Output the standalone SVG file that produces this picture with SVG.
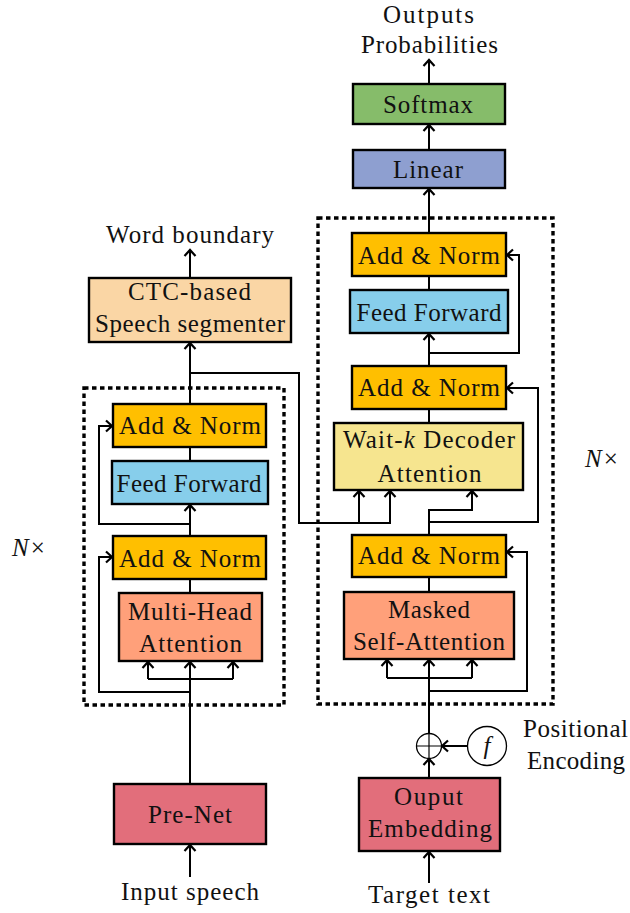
<svg xmlns="http://www.w3.org/2000/svg" width="630" height="913" viewBox="0 0 630 913">
<defs>
<style>
.box{stroke:#000;stroke-width:2.4}
.t{font-family:'Liberation Serif','Times New Roman',Times,'DejaVu Serif',serif;font-size:25px;fill:#111;text-anchor:middle}
.n{font-family:'Liberation Serif','Times New Roman',Times,'DejaVu Serif',serif;font-size:25px;fill:#111}
.c{fill:none;stroke:#000;stroke-width:2}
.ca{fill:none;stroke:#000;stroke-width:2;marker-end:url(#ah)}
.dash{fill:none;stroke:#000;stroke-width:3.4;stroke-dasharray:4.5 3.5}
.an{fill:#FFBF00}
.ff{fill:#87CEEB}
.at{fill:#FFA07A}
.emb{fill:#E26E7B}
</style>
<marker id="ah" markerUnits="userSpaceOnUse" viewBox="-9 -8 11 16" markerWidth="11" markerHeight="16" refX="0" refY="0" orient="auto">
<path d="M-6,-5.5 L0,0 L-6,5.5" fill="none" stroke="#000" stroke-width="2.2" stroke-linejoin="miter"/>
</marker>
</defs>
<rect width="630" height="913" fill="#fff"/>

<g id="encoder-block">
<rect class="dash" x="84" y="388" width="200" height="317"/>
<text class="n" x="12" y="556"><tspan font-style="italic">N</tspan><tspan dx="2">×</tspan></text>
</g>
<g id="decoder-block">
<rect class="dash" x="318" y="218" width="235" height="486"/>
<text class="n" x="585" y="467"><tspan font-style="italic">N</tspan><tspan dx="2">×</tspan></text>
</g>

<g id="connectors">
<path class="ca" d="M190,877 V845"/>
<path class="ca" d="M190,784 V662"/>
<path class="c" d="M148,679 H233"/>
<path class="ca" d="M148,679 V662"/>
<path class="ca" d="M233,679 V662"/>
<path class="ca" d="M190,692 H99 V557 H112"/>
<path class="c" d="M190,593 V579"/>
<path class="ca" d="M190,536 V505"/>
<path class="ca" d="M190,524 H99 V426 H112"/>
<path class="c" d="M190,461 V447"/>
<path class="ca" d="M190,404 V343"/>
<path class="ca" d="M190,373 H299 V523 H390 V491"/>
<path class="ca" d="M359,523 V491"/>
<path class="ca" d="M190,278 V250"/>

<path class="ca" d="M429,883 V852"/>
<path class="ca" d="M429,778 V759"/>
<path class="ca" d="M467,746 H442"/>
<path class="ca" d="M429,733 V660"/>
<path class="c" d="M387,678 H472"/>
<path class="ca" d="M387,678 V660"/>
<path class="ca" d="M472,678 V660"/>
<path class="ca" d="M429,691 H527 V552 H507"/>
<path class="c" d="M429,592 V577"/>
<path class="ca" d="M429,535 V510 H472 V491"/>
<path class="ca" d="M429,522 H538 V388 H507"/>
<path class="c" d="M429,423 V409"/>
<path class="ca" d="M429,366 V334"/>
<path class="ca" d="M429,353 H519 V255 H507"/>
<path class="c" d="M429,290 V276"/>
<path class="ca" d="M429,233 V189"/>
<path class="ca" d="M429,150 V125"/>
<path class="ca" d="M429,84 V60"/>
</g>

<g id="word-boundary"><text class="t" x="190" y="243" textLength="168">Word boundary</text></g>
<g id="ctc">
<rect class="box" x="89" y="278" width="202" height="64" fill="#FAD6A5"/>
<text class="t" x="189.5" y="300" textLength="123">CTC-based</text>
<text class="t" x="190" y="332" textLength="190">Speech segmenter</text>
</g>
<g id="enc-addnorm2">
<rect class="box an" x="113" y="404" width="153" height="43"/>
<text class="t" x="190" y="434" textLength="142">Add &amp; Norm</text>
</g>
<g id="enc-ff">
<rect class="box ff" x="112" y="461" width="156" height="43"/>
<text class="t" x="189" y="492" textLength="145">Feed Forward</text>
</g>
<g id="enc-addnorm1">
<rect class="box an" x="113" y="536" width="153" height="43"/>
<text class="t" x="190" y="567" textLength="142">Add &amp; Norm</text>
</g>
<g id="enc-mha">
<rect class="box at" x="119" y="593" width="143" height="68"/>
<text class="t" x="190" y="620" textLength="124">Multi-Head</text>
<text class="t" x="190.5" y="652" textLength="103">Attention</text>
</g>
<g id="prenet">
<rect class="box emb" x="114" y="784" width="152" height="60"/>
<text class="t" x="190" y="823" textLength="84">Pre-Net</text>
</g>
<g id="input-speech"><text class="t" x="190" y="900" textLength="138">Input speech</text></g>

<g id="outputs">
<text class="t" x="428.5" y="23" textLength="91">Outputs</text>
<text class="t" x="429.5" y="53" textLength="137">Probabilities</text>
</g>
<g id="softmax">
<rect class="box" x="353" y="84" width="152" height="40" fill="#86BC6A"/>
<text class="t" x="428" y="113" textLength="90">Softmax</text>
</g>
<g id="linear">
<rect class="box" x="353" y="150" width="152" height="38" fill="#8E9FD0"/>
<text class="t" x="428" y="178" textLength="70">Linear</text>
</g>
<g id="dec-addnorm3">
<rect class="box an" x="352" y="233" width="154" height="43"/>
<text class="t" x="429" y="264" textLength="142">Add &amp; Norm</text>
</g>
<g id="dec-ff">
<rect class="box ff" x="350" y="290" width="158" height="43"/>
<text class="t" x="429" y="321" textLength="145">Feed Forward</text>
</g>
<g id="dec-addnorm2">
<rect class="box an" x="352" y="366" width="154" height="43"/>
<text class="t" x="429" y="396" textLength="142">Add &amp; Norm</text>
</g>
<g id="waitk">
<rect class="box" x="334" y="423" width="189" height="67" fill="#F6E58F"/>
<text class="t" x="429" y="448" textLength="172">Wait-<tspan font-style="italic">k</tspan> Decoder</text>
<text class="t" x="429.5" y="482" textLength="104">Attention</text>
</g>
<g id="dec-addnorm1">
<rect class="box an" x="352" y="535" width="154" height="42"/>
<text class="t" x="429" y="564" textLength="142">Add &amp; Norm</text>
</g>
<g id="masked">
<rect class="box at" x="344" y="592" width="170" height="67"/>
<text class="t" x="429" y="618" textLength="82">Masked</text>
<text class="t" x="429" y="650" textLength="152">Self-Attention</text>
</g>
<g id="plus">
<circle cx="429" cy="746" r="12.5" fill="#fff" stroke="#000" stroke-width="1.3"/>
<path d="M417,746 H441 M429,734 V758" stroke="#000" stroke-width="1.2" fill="none"/>
</g>
<g id="posenc">
<circle cx="487" cy="746" r="19.5" fill="#fff" stroke="#000" stroke-width="1.3"/>
<text class="t" x="487" y="754" font-style="italic">f</text>
<text class="t" x="575.5" y="737" textLength="105">Positional</text>
<text class="t" x="576" y="769" textLength="98">Encoding</text>
</g>
<g id="embedding">
<rect class="box emb" x="359" y="778" width="141" height="73"/>
<text class="t" x="428.5" y="805" textLength="69">Ouput</text>
<text class="t" x="430" y="837" textLength="124">Embedding</text>
</g>
<g id="target-text"><text class="t" x="429" y="903" textLength="122">Target text</text></g>
</svg>
